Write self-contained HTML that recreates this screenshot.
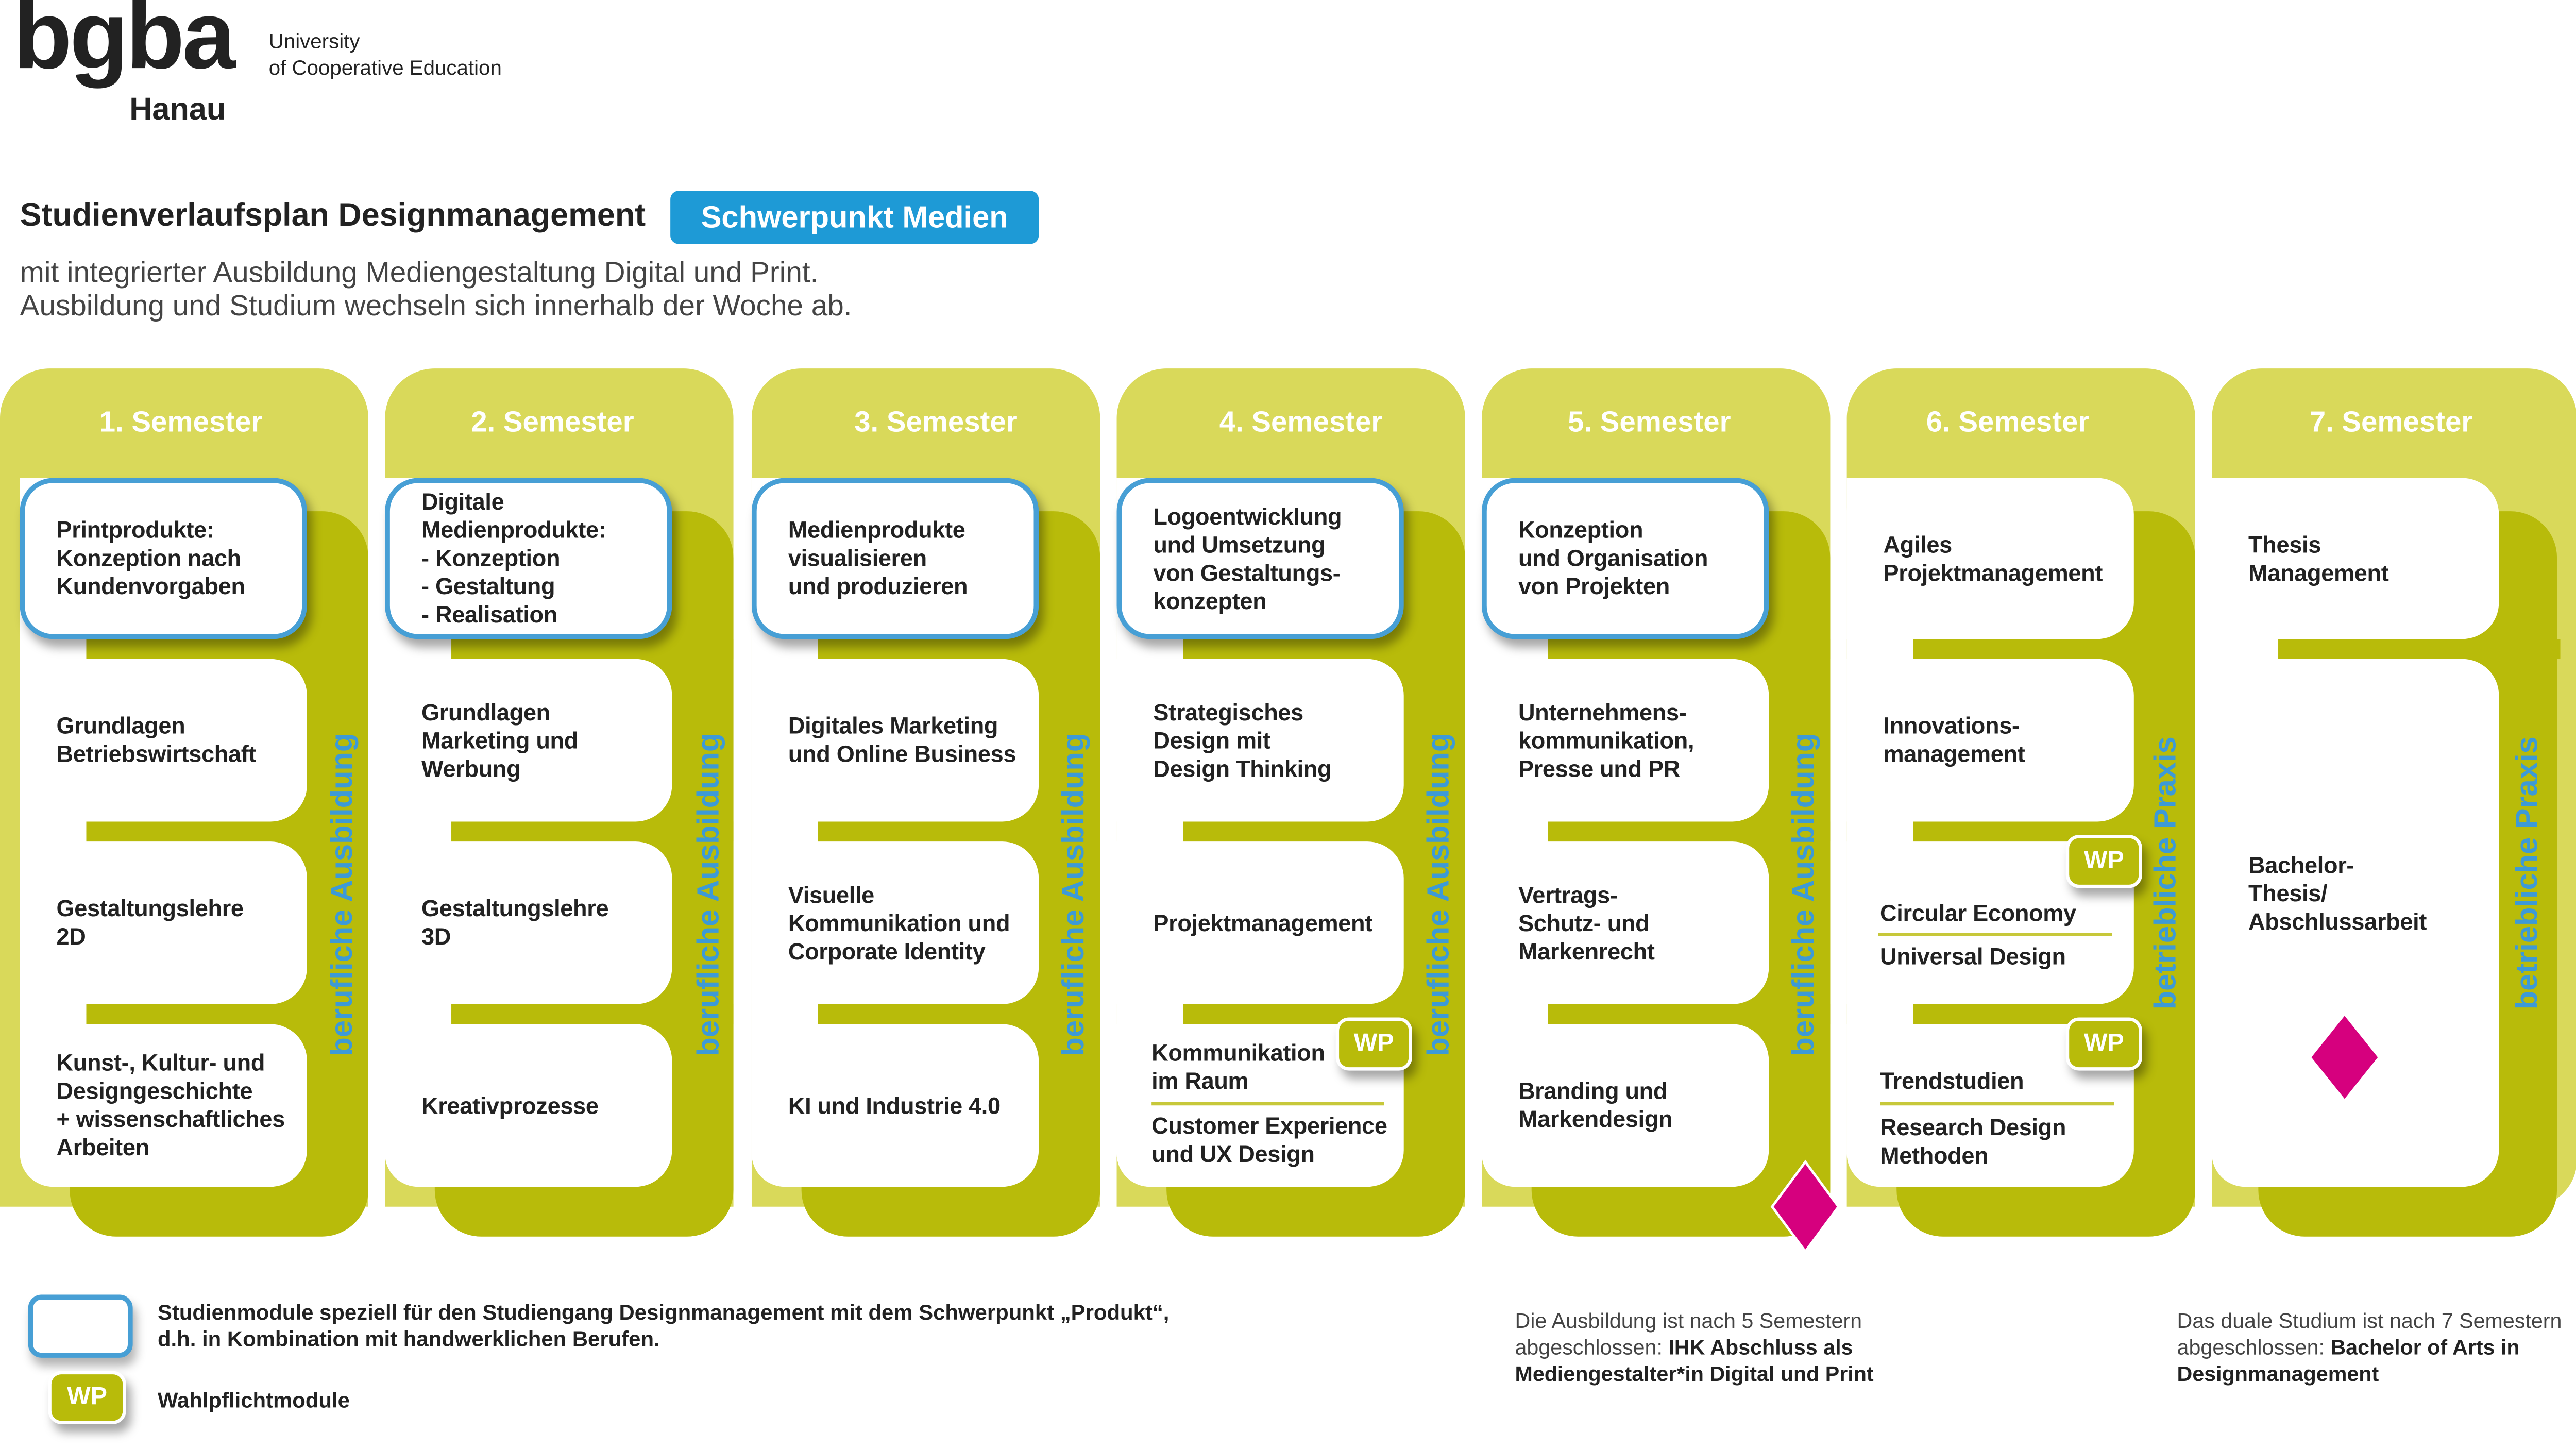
<!DOCTYPE html>
<html><head><meta charset="utf-8">
<style>
html,body{margin:0;padding:0;background:#fff;}
body{width:5050px;height:2812px;overflow:hidden;position:relative;}
#w{position:absolute;left:0;top:0;width:1568px;height:873px;transform:scale(3.2207,3.2211);transform-origin:0 0;font-family:"Liberation Sans",sans-serif;color:#222;}
#w div{position:absolute;box-sizing:border-box;}
.light{background:#d9d95a;border-radius:30px 30px 0 0;top:222px;height:505px;}
.dark{background:#b8bb0a;border-radius:28px;top:308px;height:437px;}
.strip{background:#fff;width:40px;top:288px;height:427px;border-radius:0 0 0 20px;}
.bar{background:#b8bb0a;height:12px;border-radius:6px 0 0 6px;}
.card{background:#fff;width:173px;border-radius:0 22px 22px 0;display:flex;align-items:center;padding-left:22px;font-weight:bold;font-size:14px;line-height:17px;letter-spacing:-0.1px;}
.blue{border:3px solid #479fd5;border-radius:20px;box-shadow:3px 5px 6px rgba(0,0,0,.35);padding-left:19px;}
.sem{top:244px;width:210px;text-align:center;color:#fff;font-weight:bold;font-size:17.5px;}
.vl{width:260px;height:24px;text-align:center;color:#3d9ad6;font-weight:bold;font-size:18.5px;line-height:24px;transform:rotate(-90deg);}
.t{font-weight:bold;font-size:14px;line-height:17px;white-space:nowrap;letter-spacing:-0.1px;}
.ln{height:2px;background:#c7c83a;}
.wp{width:46px;height:32px;background:#b8bb0a;border:2.5px solid #fff;border-radius:8px;color:#fff;font-weight:bold;font-size:15px;line-height:27px;text-align:center;box-shadow:3px 5px 6px rgba(0,0,0,.35);}
.ft{font-size:12.8px;line-height:16px;color:#444;white-space:nowrap;}
.ft b{color:#222;}
</style></head><body><div id="w">

<div style="left:8px;top:-13px;font-size:58px;font-weight:bold;letter-spacing:-1.5px;color:#222;line-height:70px;">bgba</div>
<div style="left:78px;top:56px;font-size:19px;font-weight:bold;color:#222;">Hanau</div>
<div style="left:162px;top:17px;font-size:12.5px;line-height:16px;color:#222;">University<br>of Cooperative Education</div>

<div style="left:12px;top:119px;font-size:19.5px;font-weight:bold;color:#222;white-space:nowrap;">Studienverlaufsplan Designmanagement</div>
<div style="left:404px;top:115px;width:222px;height:32px;background:#1e9ad6;border-radius:5px;color:#fff;font-weight:bold;font-size:18.5px;line-height:32px;text-align:center;">Schwerpunkt Medien</div>
<div style="left:12px;top:154px;font-size:17.6px;line-height:20px;color:#444;white-space:nowrap;">mit integrierter Ausbildung Mediengestaltung Digital und Print.<br>Ausbildung und Studium wechseln sich innerhalb der Woche ab.</div>

<!-- backgrounds -->
<div class="light" style="left:0;width:222px"></div>
<div class="light" style="left:232px;width:210px"></div>
<div class="light" style="left:453px;width:210px"></div>
<div class="light" style="left:673px;width:210px"></div>
<div class="light" style="left:893px;width:210px"></div>
<div class="light" style="left:1113px;width:210px"></div>
<div class="light" style="left:1333px;width:220px;border-radius:30px 30px 28px 0;"></div>

<div class="dark" style="left:42px;width:180px"></div>
<div class="dark" style="left:262px;width:180px"></div>
<div class="dark" style="left:483px;width:180px"></div>
<div class="dark" style="left:703px;width:180px"></div>
<div class="dark" style="left:923px;width:180px"></div>
<div class="dark" style="left:1143px;width:180px"></div>
<div class="dark" style="left:1361px;width:180px"></div>

<div class="sem" style="left:4px">1. Semester</div>
<div class="sem" style="left:228px">2. Semester</div>
<div class="sem" style="left:459px">3. Semester</div>
<div class="sem" style="left:679px">4. Semester</div>
<div class="sem" style="left:889px">5. Semester</div>
<div class="sem" style="left:1105px">6. Semester</div>
<div class="sem" style="left:1336px">7. Semester</div>

<!-- strips & bars -->
<div class="strip" style="left:12px"></div>
<div class="strip" style="left:232px"></div>
<div class="strip" style="left:453px"></div>
<div class="strip" style="left:673px"></div>
<div class="strip" style="left:893px"></div>
<div class="strip" style="left:1113px"></div>
<div class="strip" style="left:1333px"></div>

<div class="bar" style="left:52px;width:170px;top:385px"></div>
<div class="bar" style="left:52px;width:170px;top:495px"></div>
<div class="bar" style="left:52px;width:170px;top:605px"></div>
<div class="bar" style="left:272px;width:170px;top:385px"></div>
<div class="bar" style="left:272px;width:170px;top:495px"></div>
<div class="bar" style="left:272px;width:170px;top:605px"></div>
<div class="bar" style="left:493px;width:170px;top:385px"></div>
<div class="bar" style="left:493px;width:170px;top:495px"></div>
<div class="bar" style="left:493px;width:170px;top:605px"></div>
<div class="bar" style="left:713px;width:170px;top:385px"></div>
<div class="bar" style="left:713px;width:170px;top:495px"></div>
<div class="bar" style="left:713px;width:170px;top:605px"></div>
<div class="bar" style="left:933px;width:170px;top:385px"></div>
<div class="bar" style="left:933px;width:170px;top:495px"></div>
<div class="bar" style="left:933px;width:170px;top:605px"></div>
<div class="bar" style="left:1153px;width:170px;top:385px"></div>
<div class="bar" style="left:1153px;width:170px;top:495px"></div>
<div class="bar" style="left:1153px;width:170px;top:605px"></div>
<div class="bar" style="left:1373px;width:170px;top:385px"></div>

<!-- col 1 -->
<div class="card" style="left:12px;top:397px;height:98px">Grundlagen<br>Betriebswirtschaft</div>
<div class="card" style="left:12px;top:507px;height:98px">Gestaltungslehre<br>2D</div>
<div class="card" style="left:12px;top:617px;height:98px;border-radius:0 22px 22px 20px">Kunst-, Kultur- und<br>Designgeschichte<br>+ wissenschaftliches<br>Arbeiten</div>
<div class="card blue" style="left:12px;top:288px;height:97px">Printprodukte:<br>Konzeption nach<br>Kundenvorgaben</div>
<!-- col 2 -->
<div class="card" style="left:232px;top:397px;height:98px">Grundlagen<br>Marketing und<br>Werbung</div>
<div class="card" style="left:232px;top:507px;height:98px">Gestaltungslehre<br>3D</div>
<div class="card" style="left:232px;top:617px;height:98px;border-radius:0 22px 22px 20px">Kreativprozesse</div>
<div class="card blue" style="left:232px;top:288px;height:97px">Digitale<br>Medienprodukte:<br>- Konzeption<br>- Gestaltung<br>- Realisation</div>
<!-- col 3 -->
<div class="card" style="left:453px;top:397px;height:98px">Digitales Marketing<br>und Online Business</div>
<div class="card" style="left:453px;top:507px;height:98px">Visuelle<br>Kommunikation und<br>Corporate Identity</div>
<div class="card" style="left:453px;top:617px;height:98px;border-radius:0 22px 22px 20px">KI und Industrie 4.0</div>
<div class="card blue" style="left:453px;top:288px;height:97px">Medienprodukte<br>visualisieren<br>und produzieren</div>
<!-- col 4 -->
<div class="card" style="left:673px;top:397px;height:98px">Strategisches<br>Design mit<br>Design Thinking</div>
<div class="card" style="left:673px;top:507px;height:98px">Projektmanagement</div>
<div class="card" style="left:673px;top:617px;height:98px;border-radius:0 22px 22px 20px"></div>
<div class="t" style="left:694px;top:626px">Kommunikation<br>im Raum</div>
<div class="ln" style="left:694px;top:664px;width:140px"></div>
<div class="t" style="left:694px;top:670px">Customer Experience<br>und UX Design</div>
<div class="card blue" style="left:673px;top:288px;height:97px">Logoentwicklung<br>und Umsetzung<br>von Gestaltungs-<br>konzepten</div>
<div class="wp" style="left:805px;top:613px">WP</div>
<!-- col 5 -->
<div class="card" style="left:893px;top:397px;height:98px">Unternehmens-<br>kommunikation,<br>Presse und PR</div>
<div class="card" style="left:893px;top:507px;height:98px">Vertrags-<br>Schutz- und<br>Markenrecht</div>
<div class="card" style="left:893px;top:617px;height:98px;border-radius:0 22px 22px 20px">Branding und<br>Markendesign</div>
<div class="card blue" style="left:893px;top:288px;height:97px">Konzeption<br>und Organisation<br>von Projekten</div>
<!-- col 6 -->
<div class="card" style="left:1113px;top:288px;height:97px;border-radius:20px 22px 22px 0">Agiles<br>Projektmanagement</div>
<div class="card" style="left:1113px;top:397px;height:98px">Innovations-<br>management</div>
<div class="card" style="left:1113px;top:507px;height:98px"></div>
<div class="t" style="left:1133px;top:542px">Circular Economy</div>
<div class="ln" style="left:1132px;top:562px;width:141px"></div>
<div class="t" style="left:1133px;top:568px">Universal Design</div>
<div class="card" style="left:1113px;top:617px;height:98px;border-radius:0 22px 22px 20px"></div>
<div class="t" style="left:1133px;top:643px">Trendstudien</div>
<div class="ln" style="left:1133px;top:664px;width:141px"></div>
<div class="t" style="left:1133px;top:671px">Research Design<br>Methoden</div>
<div class="wp" style="left:1245px;top:503px">WP</div>
<div class="wp" style="left:1245px;top:613px">WP</div>
<!-- col 7 -->
<div class="card" style="left:1333px;top:288px;height:97px;border-radius:20px 22px 22px 0">Thesis<br>Management</div>
<div class="card" style="left:1333px;top:397px;height:318px;border-radius:0 22px 22px 20px;align-items:flex-start;padding-top:116px">Bachelor-<br>Thesis/<br>Abschlussarbeit</div>

<!-- vertical labels -->
<div class="vl" style="left:76px;top:527px">berufliche Ausbildung</div>
<div class="vl" style="left:297px;top:527px">berufliche Ausbildung</div>
<div class="vl" style="left:517px;top:527px">berufliche Ausbildung</div>
<div class="vl" style="left:737px;top:527px">berufliche Ausbildung</div>
<div class="vl" style="left:957px;top:527px">berufliche Ausbildung</div>
<div class="vl" style="left:1175px;top:514px">betriebliche Praxis</div>
<div class="vl" style="left:1393px;top:514px">betriebliche Praxis</div>

<svg style="position:absolute;left:0;top:0" width="1568" height="873">
<polygon points="1088,700 1108,727 1088,754 1068,727" fill="#d6007e" stroke="#fff" stroke-width="1.5"/>
<polygon points="1413,612 1433,637 1413,662 1393,637" fill="#d6007e"/>
</svg>

<!-- legend -->
<div style="left:17px;top:780px;width:63px;height:38px;border:3px solid #479fd5;border-radius:8px;background:#fff;box-shadow:2px 5px 6px rgba(0,0,0,.3)"></div>
<div class="ft" style="left:95px;top:783px;font-weight:bold;color:#222;font-size:13px">Studienmodule speziell für den Studiengang Designmanagement mit dem Schwerpunkt „Produkt“,<br>d.h. in Kombination mit handwerklichen Berufen.</div>
<div class="wp" style="left:29px;top:826px;width:47px;height:32px">WP</div>
<div class="ft" style="left:95px;top:836px;font-weight:bold;color:#222;font-size:13px">Wahlpflichtmodule</div>

<div class="ft" style="left:913px;top:788px">Die Ausbildung ist nach 5 Semestern<br>abgeschlossen: <b>IHK Abschluss als</b><br><b>Mediengestalter*in Digital und Print</b></div>
<div class="ft" style="left:1312px;top:788px">Das duale Studium ist nach 7 Semestern<br>abgeschlossen: <b>Bachelor of Arts in</b><br><b>Designmanagement</b></div>

</div></body></html>
